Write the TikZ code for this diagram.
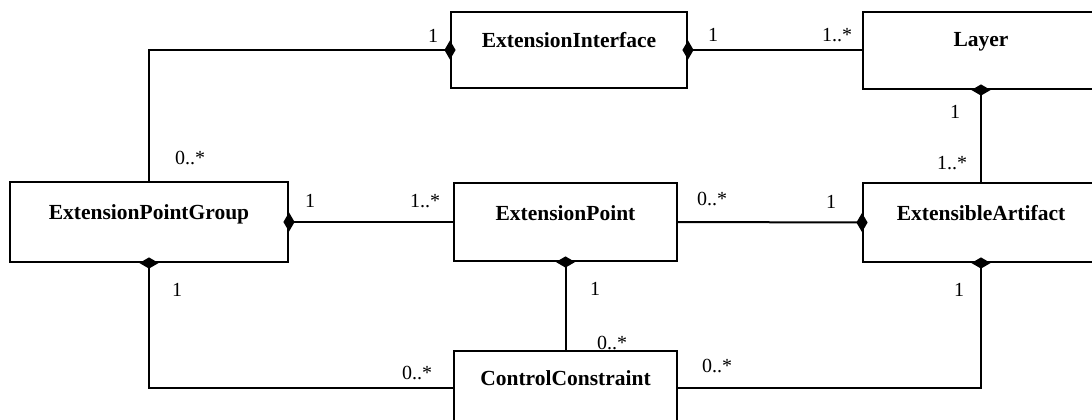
\documentclass[tikz,border=0pt]{standalone}
\usepackage{fontspec}
\setmainfont{Liberation Serif}
\usetikzlibrary{shapes.geometric}
\newcommand\boxfont{\fontsize{21.5}{24}\selectfont\bfseries}
\newcommand\multfont{\fontsize{20}{22}\selectfont}
\begin{document}
\begin{tikzpicture}[x=1pt,y=-1pt, line width=2pt,
  umlbox/.style={draw, rectangle, fill=white, inner sep=0pt},
  boxtext/.style={font=\boxfont, yshift=#1},
  mult/.style={font=\multfont, inner sep=0pt},
  comp/.style={diamond, fill=black, draw=none, inner sep=0pt},
  compv/.style={comp, minimum width=12pt, minimum height=20pt},
  comph/.style={comp, minimum width=20pt, minimum height=12pt}]
\useasboundingbox (0,0) rectangle (1092,420);
\clip (0,0) rectangle (1092,420);

% multiplicities
\node[mult] (m1)  at (433,36)  {1};
\node[mult] (m2)  at (713,35)  {1};
\node[mult] (m3)  at (837,35)  {1..*};
\node[mult] (m4)  at (955,112) {1};
\node[mult] (m5)  at (952,163) {1..*};
\node[mult] (m6)  at (190,158) {0..*};
\node[mult] (m7)  at (310,201) {1};
\node[mult] (m8)  at (425,201) {1..*};
\node[mult] (m9)  at (712,199) {0..*};
\node[mult] (m10) at (831,202) {1};
\node[mult] (m11) at (177,290) {1};
\node[mult] (m12) at (417,373) {0..*};
\node[mult] (m13) at (595,289) {1};
\node[mult] (m14) at (612,343) {0..*};
\node[mult] (m15) at (717,366) {0..*};
\node[mult] (m16) at (959,290) {1};

% classes
\node[umlbox, minimum width=236pt, minimum height=76pt,
  label={[boxtext=10pt]center:ExtensionInterface}] (EI) at (569,50) {};
\node[umlbox, minimum width=236pt, minimum height=77pt,
  label={[boxtext=9pt]center:Layer}] (Layer) at (981,50.5) {};
\node[umlbox, minimum width=278pt, minimum height=80pt,
  label={[boxtext=8pt]center:ExtensionPointGroup}] (EPG) at (149,222) {};
\node[umlbox, minimum width=223pt, minimum height=78pt,
  label={[boxtext=9pt]center:ExtensionPoint}] (EP) at (565.5,222) {};
\node[umlbox, minimum width=236pt, minimum height=79pt,
  label={[boxtext=9pt]center:ExtensibleArtifact}] (EA) at (981,222.5) {};
\node[umlbox, minimum width=223pt, minimum height=79pt,
  label={[boxtext=12pt]center:ControlConstraint}] (CC) at (565.5,390.5) {};

% connectors
\draw (EI.west) -| (EPG.north);
\draw (EI.east) -- (EI.east -| Layer.west);
\draw (Layer.south) -- (EA.north);
\draw (EPG.east) -- (EP.west);
\draw (EP.east) -- (EA.west);
\draw (EPG.south) |- ([yshift=3pt]CC.west);
\draw (EP.south) -- (CC.north);
\draw ([yshift=3pt]CC.east) -| (EA.south);

% composition diamonds
\node[compv] (d1) at (EI.west) {};
\node[compv] (d2) at (EI.east) {};
\node[comph] (d3) at (Layer.south) {};
\node[compv] (d4) at (EPG.east) {};
\node[comph] (d5) at (EPG.south) {};
\node[comph] (d6) at (EP.south) {};
\node[compv] (d7) at (EA.west) {};
\node[comph] (d8) at (EA.south) {};
\end{tikzpicture}
\end{document}
